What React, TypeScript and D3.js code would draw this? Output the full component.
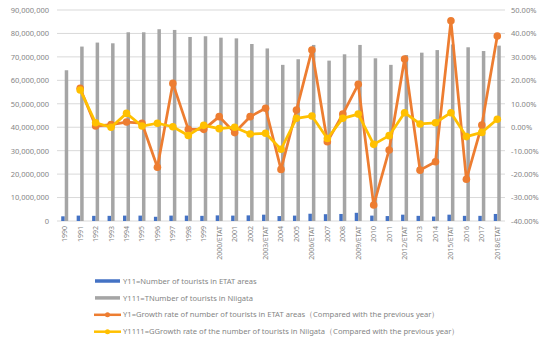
import React, { useEffect, useRef } from 'react';
import * as d3 from 'd3';

const years = [
  '1990', '1991', '1992', '1993', '1994', '1995', '1996', '1997', '1998', '1999',
  '2000/ETAT', '2001', '2002', '2003/ETAT', '2004', '2005', '2006/ETAT', '2007', '2008',
  '2009/ETAT', '2010', '2011', '2012/ETAT', '2013', '2014', '2015/ETAT', '2016', '2017', '2018/ETAT'
];

// Y11 = tourists in ETAT areas
const etatTourists = [
  2.0, 2.3, 2.2, 2.2, 2.3, 2.3, 1.8, 2.3, 2.3, 2.2,
  2.4, 2.3, 2.4, 2.7, 2.1, 2.3, 3.1, 2.9, 3.0,
  3.5, 2.3, 2.1, 2.7, 2.2, 1.9, 2.7, 2.2, 2.2, 3.0
].map(v => v * 1e6);

// Y111 = tourists in Niigata
const niigataTourists = [
  64.3, 74.4, 76.1, 75.8, 80.5, 80.5, 81.8, 81.5, 78.5, 78.8,
  78.2, 77.9, 75.5, 73.6, 66.6, 69.0, 75.1, 68.4, 71.1,
  75.1, 69.4, 66.6, 70.8, 71.8, 72.9, 75.3, 74.1, 72.5, 74.8
].map(v => v * 1e6);

// Y1 = growth rate ETAT (%), 1990 has no value
const etatGrowth: (number | null)[] = [
  null, 16.6, 0.5, 1.1, 2.2, 1.7, -17.1, 18.7, -0.9, -0.9,
  4.5, -2.3, 4.5, 8.1, -18.0, 7.3, 32.9, -6.2, 5.6,
  18.3, -33.2, -9.7, 29.1, -18.3, -14.7, 45.4, -22.2, 0.9, 38.9
];

// Y1111 = growth rate Niigata (%)
const niigataGrowth: (number | null)[] = [
  null, 15.9, 1.9, 0.0, 5.9, 0.5, 1.7, 0.2, -3.5, 0.8,
  -0.6, 0.0, -2.9, -2.6, -9.4, 3.8, 4.8, -4.8, 3.8,
  5.6, -7.3, -3.6, 6.2, 1.4, 1.9, 6.2, -4.0, -2.2, 3.4
];

const leftTicks = [0, 10, 20, 30, 40, 50, 60, 70, 80, 90].map(v => v * 1e6);
const rightTicks = [-40, -30, -20, -10, 0, 10, 20, 30, 40, 50];

const legendItems = [
  { label: 'Y11=Number of tourists in ETAT areas', color: '#4472C4', kind: 'bar' },
  { label: 'Y111=TNumber of tourists in Niigata', color: '#A5A5A5', kind: 'bar' },
  { label: 'Y1=Growth rate of number of tourists in ETAT areas（Compared with the previous year）', color: '#ED7D31', kind: 'line' },
  { label: 'Y1111=GGrowth rate of the number of tourists in Niigata（Compared with the previous year）', color: '#FFC000', kind: 'line' }
];

const FONT = '"Noto Sans", "DejaVu Sans", sans-serif';
const TEXT = '#858585';

const App: React.FC = () => {
  const svgRef = useRef<SVGSVGElement>(null);

  useEffect(() => {
    if (!svgRef.current) return;
    const width = 550;
    const height = 345;
    const plot = { left: 57, right: 505, top: 10, bottom: 221 };

    const svg = d3.select(svgRef.current);
    svg.selectAll('*').remove();
    svg.attr('width', width).attr('height', height);

    svg.append('rect').attr('width', width).attr('height', height).attr('fill', '#fff');

    const x = d3.scaleBand<string>().domain(years).range([plot.left, plot.right]);
    const yLeft = d3.scaleLinear().domain([0, 90e6]).range([plot.bottom, plot.top]);
    const yRight = d3.scaleLinear().domain([-40, 50]).range([plot.bottom, plot.top]);

    // Gridlines
    svg.append('g')
      .selectAll('line')
      .data(leftTicks)
      .enter().append('line')
      .attr('x1', plot.left)
      .attr('x2', plot.right)
      .attr('y1', d => yLeft(d))
      .attr('y2', d => yLeft(d))
      .attr('stroke', '#d9d9d9')
      .attr('stroke-width', 1);

    // Left axis
    const leftAxis = svg.append('g')
      .attr('transform', `translate(${plot.left - 8},0)`)
      .call(d3.axisLeft(yLeft).tickValues(leftTicks).tickSize(0).tickPadding(0).tickFormat(d => d3.format(',')(d as number)));
    leftAxis.select('.domain').remove();
    leftAxis.selectAll('text')
      .attr('fill', TEXT)
      .style('font-family', FONT)
      .style('font-size', '7.5px');

    // Right axis
    const rightAxis = svg.append('g')
      .attr('transform', `translate(${plot.right + 6},0)`)
      .call(d3.axisRight(yRight).tickValues(rightTicks).tickSize(0).tickPadding(0).tickFormat(d => `${(d as number).toFixed(2)}%`));
    rightAxis.select('.domain').remove();
    rightAxis.selectAll('text')
      .attr('fill', TEXT)
      .style('font-family', FONT)
      .style('font-size', '7.5px');

    // Bottom category labels
    const bottomAxis = svg.append('g')
      .attr('transform', `translate(0,${plot.bottom})`)
      .call(d3.axisBottom(x).tickSize(0));
    bottomAxis.select('.domain').remove();
    bottomAxis.selectAll('text')
      .attr('fill', TEXT)
      .style('font-family', FONT)
      .style('font-size', '7px')
      .attr('transform', 'rotate(-90)')
      .attr('x', -5)
      .attr('y', 0)
      .attr('dy', '0.35em')
      .style('text-anchor', 'end');

    // Bars
    const sub = d3.scaleBand<string>().domain(['etat', 'niigata']).range([0, 7]);
    const barOffset = x.bandwidth() / 2 - 3.5;

    svg.append('g')
      .selectAll('rect')
      .data(years)
      .enter().append('rect')
      .attr('x', d => (x(d) as number) + barOffset + (sub('etat') as number))
      .attr('y', (_, i) => yLeft(etatTourists[i]))
      .attr('width', sub.bandwidth())
      .attr('height', (_, i) => yLeft(0) - yLeft(etatTourists[i]))
      .attr('fill', '#4472C4');

    svg.append('g')
      .selectAll('rect')
      .data(years)
      .enter().append('rect')
      .attr('x', d => (x(d) as number) + barOffset + (sub('niigata') as number))
      .attr('y', (_, i) => yLeft(niigataTourists[i]))
      .attr('width', sub.bandwidth())
      .attr('height', (_, i) => yLeft(0) - yLeft(niigataTourists[i]))
      .attr('fill', '#A5A5A5');

    // Lines
    const drawLine = (values: (number | null)[], color: string) => {
      const pts = years
        .map((yr, i) => ({ yr, v: values[i] }))
        .filter(p => p.v !== null) as { yr: string; v: number }[];
      const line = d3.line<{ yr: string; v: number }>()
        .x(p => (x(p.yr) as number) + x.bandwidth() / 2)
        .y(p => yRight(p.v));
      const g = svg.append('g');
      g.append('path')
        .datum(pts)
        .attr('fill', 'none')
        .attr('stroke', color)
        .attr('stroke-width', 2.75)
        .attr('stroke-linejoin', 'round')
        .attr('d', line);
      g.selectAll('circle')
        .data(pts)
        .enter().append('circle')
        .attr('cx', p => (x(p.yr) as number) + x.bandwidth() / 2)
        .attr('cy', p => yRight(p.v))
        .attr('r', 3.8)
        .attr('fill', color);
    };
    drawLine(etatGrowth, '#ED7D31');
    drawLine(niigataGrowth, '#FFC000');

    // Legend
    const legend = svg.append('g').attr('transform', 'translate(94,281)');
    legendItems.forEach((item, i) => {
      const row = legend.append('g').attr('transform', `translate(0,${i * 16.9})`);
      if (item.kind === 'bar') {
        row.append('line')
          .attr('x1', 1).attr('x2', 26).attr('y1', 0).attr('y2', 0)
          .attr('stroke', item.color).attr('stroke-width', 3.5);
      } else {
        row.append('line')
          .attr('x1', 0).attr('x2', 27).attr('y1', 0).attr('y2', 0)
          .attr('stroke', item.color).attr('stroke-width', 2.5);
        row.append('circle')
          .attr('cx', 13.5).attr('cy', 0).attr('r', 2.5)
          .attr('fill', item.color);
      }
      row.append('text')
        .attr('x', 29)
        .attr('y', 0)
        .attr('dy', '0.35em')
        .attr('fill', TEXT)
        .style('font-family', FONT)
        .style('font-size', '7.6px')
        .text(item.label);
    });
  }, []);

  return (
    <div style={{ position: 'absolute', left: 0, top: 0 }}>
      <svg ref={svgRef} style={{ display: 'block' }}></svg>
    </div>
  );
};

export default App;
